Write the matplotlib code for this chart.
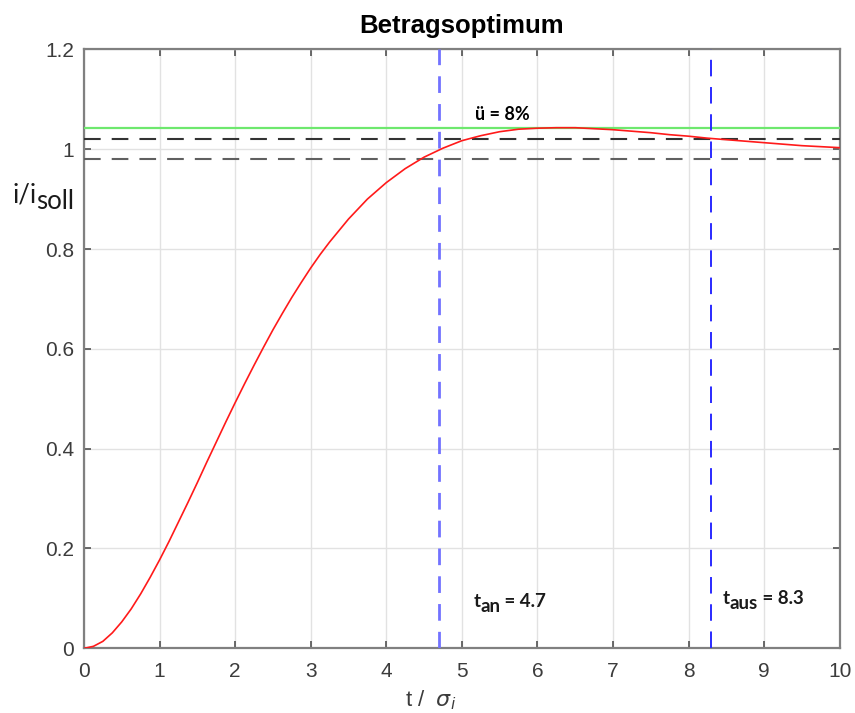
import matplotlib
matplotlib.use("Agg")
import matplotlib.pyplot as plt

# normierte Zeit t/sigma_i und Sprungantwort i/i_soll
t_vals = [0.0, 0.125, 0.25, 0.375, 0.5, 0.625, 0.75, 0.875, 1.0, 1.125,
          1.25, 1.375, 1.5, 1.625, 1.75, 1.875, 2.0, 2.125, 2.25, 2.375,
          2.5, 2.625, 2.75, 2.875, 3.0, 3.125, 3.25, 3.5, 3.75, 4.0, 4.25,
          4.5, 4.75, 5.0, 5.25, 5.5, 5.75, 6.0, 6.25, 6.5, 6.75, 7.0, 7.25,
          7.5, 7.75, 8.0, 8.25, 8.5, 8.75, 9.0, 9.25, 9.5, 9.75, 10.0]
i_vals = [0.0, 0.004, 0.014, 0.031, 0.053, 0.079, 0.109, 0.142, 0.177, 0.214,
          0.253, 0.292, 0.332, 0.373, 0.413, 0.453, 0.492, 0.530, 0.567, 0.603,
          0.638, 0.671, 0.703, 0.733, 0.762, 0.789, 0.814, 0.860, 0.900, 0.933,
          0.961, 0.984, 1.002, 1.017, 1.027, 1.035, 1.040, 1.042, 1.043, 1.043,
          1.041, 1.039, 1.036, 1.033, 1.029, 1.026, 1.022, 1.019, 1.016, 1.013,
          1.010, 1.007, 1.005, 1.003]

i_peak = 1.043
band_upper = 1.02
band_lower = 0.98
t_an = 4.7
t_aus = 8.3
overshoot_label = "ü = 8%"

x_ticks = list(range(0, 11))
y_ticks = [0, 0.2, 0.4, 0.6, 0.8, 1.0, 1.2]
y_tick_labels = ["0", "0.2", "0.4", "0.6", "0.8", "1", "1.2"]

plt.rcParams["font.family"] = ["Liberation Sans", "DejaVu Sans"]

fig = plt.figure(figsize=(8.55, 7.13), dpi=100)
ax = fig.add_axes([0.0982, 0.0907, 0.884, 0.8401])

axis_grey = "#808080"
text_grey = "#3c3c3c"
label_font = ["Lato", "DejaVu Sans"]


def sub_text(x, y, parts, size, coords, weight="normal", color="#1a1a1a",
             ha_first="left"):
    """Text mit Tiefstellung: parts = [(text, versatz_pt), ...]"""
    prev = None
    for txt, dy in parts:
        if prev is None:
            prev = ax.annotate(txt, xy=(x, y), xycoords=coords,
                               xytext=(0, dy), textcoords="offset points",
                               ha=ha_first, va="baseline", fontsize=size,
                               fontweight=weight, family=label_font,
                               color=color, annotation_clip=False)
        else:
            prev = ax.annotate(txt, xy=(1, 0), xycoords=prev,
                               xytext=(0, dy), textcoords="offset points",
                               ha="left", va="bottom", fontsize=size,
                               fontweight=weight, family=label_font,
                               color=color, annotation_clip=False)
    return prev


ax.plot(t_vals, i_vals, color="#ff1a1a", lw=1.2, zorder=5)

ax.axhline(i_peak, color="#6ee86e", lw=1.6, zorder=4)
ax.axhline(band_upper, color="#333333", lw=1.5, dashes=(8, 5.3), zorder=3)
ax.axhline(band_lower, color="#606060", lw=1.5, dashes=(8, 5.3), zorder=3)
ax.axvline(t_an, color="#7272ff", lw=2.0, dashes=(6, 4), zorder=4)
ax.axvline(t_aus, color="#2a2aff", lw=1.4, dashes=(8.5, 5.5), zorder=4)

ax.set_xlim(0, 10)
ax.set_ylim(0, 1.2)
ax.set_xticks(x_ticks)
ax.set_yticks(y_ticks)
ax.set_yticklabels(y_tick_labels)
ax.grid(True, color="#e2e2e2", lw=1.0)
ax.set_axisbelow(True)

for side in ax.spines.values():
    side.set_color(axis_grey)
    side.set_linewidth(1.6)
ax.tick_params(direction="in", length=5, width=1.2, color="#505050",
               top=True, right=True, labelsize=15, labelcolor=text_grey)
ax.tick_params(axis="x", pad=10)
ax.tick_params(axis="y", pad=7)

ax.set_title("Betragsoptimum", fontsize=18.5, fontweight="bold", pad=12)
ax.text(0.458, -0.087, r"t /  $\sigma_i$", transform=ax.transAxes,
        fontsize=16, color=text_grey, ha="center", va="center")

# y-Achsenbeschriftung i/i_soll, waagerecht links neben der Achse
sub_text(-0.095, 0.745, [("i/i", 0), ("soll", -5)], 18.5, "axes fraction")

ax.text(5.53, 1.07, overshoot_label, fontsize=13, fontweight="bold",
        family=label_font, ha="center", va="center")
sub_text(5.15, 0.083, [("t", 0), ("an", -3.5), (" = %.1f" % t_an, 3.5)],
         13.5, "data", weight="bold")
sub_text(8.45, 0.088, [("t", 0), ("aus", -3.5), (" = %.1f" % t_aus, 3.5)],
         13.5, "data", weight="bold")

fig.savefig("out.png", dpi=100)
